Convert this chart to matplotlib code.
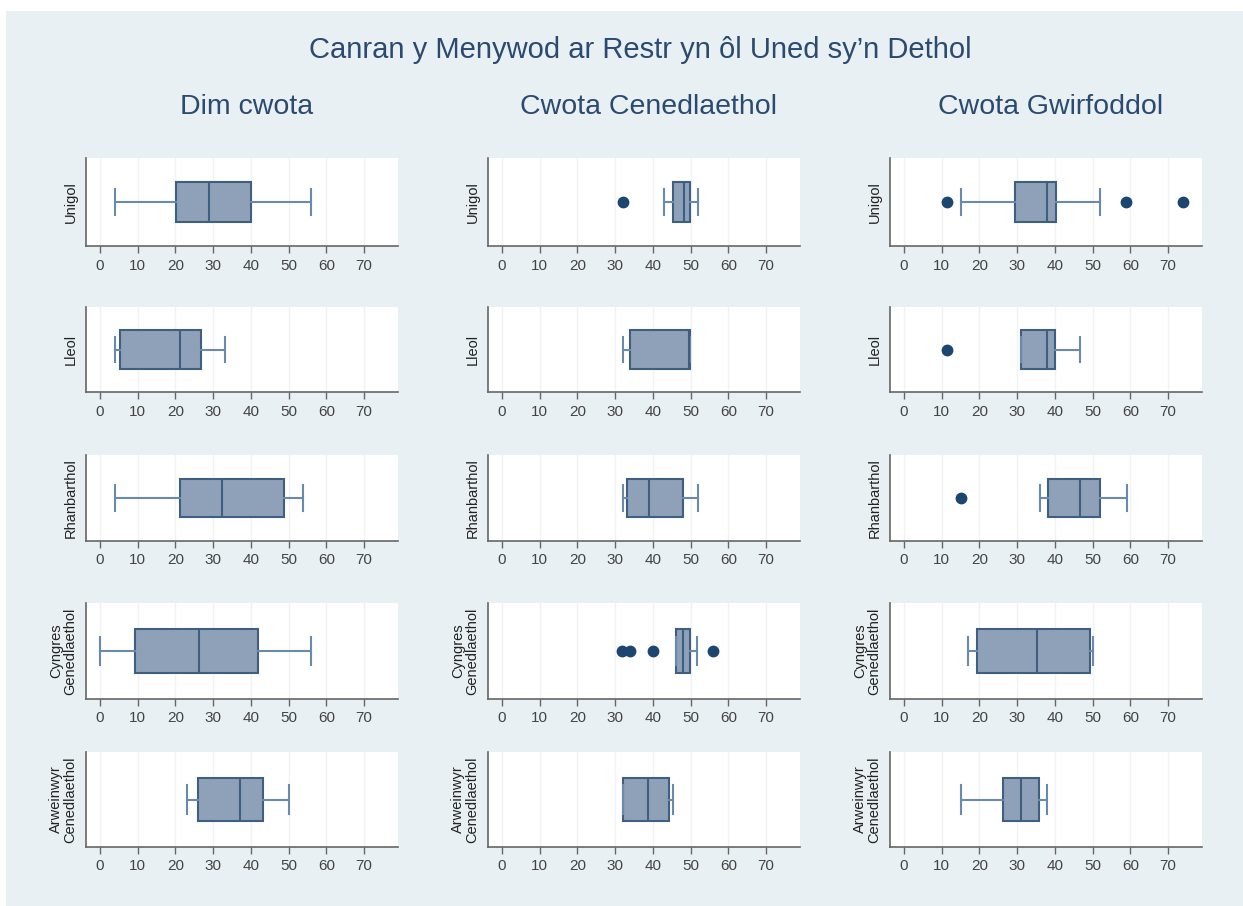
import matplotlib.pyplot as plt
from matplotlib.patches import Rectangle

plt.rcParams['font.family'] = ['Liberation Sans', 'DejaVu Sans']

columns = ["Dim cwota", "Cwota Cenedlaethol", "Cwota Gwirfoddol"]
rows = ["Unigol", "Lleol", "Rhanbarthol", "Cyngres\nGenedlaethol", "Arweinwyr\nCenedlaethol"]
xticks = [0, 10, 20, 30, 40, 50, 60, 70]

# per column: (whislo, q1, med, q3, whishi, outliers) for each row
dim_cwota = [
    (4, 20.2, 29, 40, 56, []),
    (4.1, 5.3, 21.3, 26.8, 33.2, []),
    (4.1, 21.1, 32.3, 48.7, 53.8, []),
    (0.1, 9.3, 26.2, 42, 56, []),
    (23, 26.1, 37.1, 43.1, 50, []),
]
cwota_cenedlaethol = [
    (43, 45.4, 48.3, 49.8, 51.9, [32]),
    (32, 34, 49.5, 49.9, 49.9, []),
    (32, 33.1, 39, 48, 52, []),
    (46.2, 46.2, 48.1, 49.8, 51.8, [31.7, 33.9, 40, 56]),
    (32.1, 32.1, 38.6, 44.3, 45.4, []),
]
cwota_gwirfoddol = [
    (15.1, 29.4, 38, 40.4, 52, [11.4, 58.9, 74]),
    (31.1, 31.1, 38, 40, 46.7, [11.5]),
    (36, 38.1, 46.6, 52, 59, [15.1]),
    (17, 19.3, 35.2, 49.2, 50.1, []),
    (15.1, 26.2, 31, 35.9, 38, []),
]
all_stats = [dim_cwota, cwota_cenedlaethol, cwota_gwirfoddol]

W, H = 1243, 906
bg = "#e8f0f3"
fig = plt.figure(figsize=(W / 100, H / 100), dpi=100, facecolor="white")
fig.patches.append(Rectangle((6 / W, 0), 1, 1 - 11 / H, transform=fig.transFigure,
                             facecolor=bg, edgecolor="none", zorder=-10))

col_left = [86, 488, 890]
col_width = 312
row_top = [158, 307, 455, 603, 752]
row_bot = [246, 392, 541, 699, 847]

title_col = "#2b4a6f"
fig.text(640 / W, 1 - 50 / H, "Canran y Menywod ar Restr yn ôl Uned sy’n Dethol",
         ha="center", va="center", fontsize=21, color=title_col)

for c in range(3):
    fig.text((col_left[c] + col_width / 2 + 5) / W, 1 - 107 / H, columns[c],
             ha="center", va="center", fontsize=20.5, color=title_col)
    for r in range(5):
        ax = fig.add_axes([col_left[c] / W, 1 - row_bot[r] / H,
                           col_width / W, (row_bot[r] - row_top[r]) / H])
        ax.set_facecolor("white")
        lo, q1, med, q3, hi, fl = all_stats[c][r]
        stats = [dict(whislo=lo, q1=q1, med=med, q3=q3, whishi=hi, fliers=fl)]
        ax.bxp(stats, positions=[1], widths=0.9, vert=False, patch_artist=True,
               capwidths=0.6,
               boxprops=dict(facecolor="#8ea1b8", edgecolor="#3f5f82", linewidth=1.5),
               medianprops=dict(color="#3f5f82", linewidth=1.5),
               whiskerprops=dict(color="#6a8aac", linewidth=1.5),
               capprops=dict(color="#6a8aac", linewidth=1.5),
               flierprops=dict(marker="o", markerfacecolor="#1c4670",
                               markeredgecolor="#1c4670", markersize=7.5))
        ax.set_xlim(-3.7, 79)
        ax.set_ylim(0, 2)
        ax.set_xticks(xticks)
        ax.set_yticks([])
        ax.grid(axis="x", color="#f0f2f4", linewidth=1)
        ax.set_axisbelow(True)
        for s in ["top", "right"]:
            ax.spines[s].set_visible(False)
        for s in ["left", "bottom"]:
            ax.spines[s].set_color("#666666")
            ax.spines[s].set_linewidth(1.2)
        ax.tick_params(axis="x", colors="#666666", labelcolor="#444444",
                       labelsize=11, length=5, width=1.0, pad=4)
        ax.set_ylabel(rows[r], fontsize=10.5, color="#222222", labelpad=6,
                      linespacing=1.05)

plt.savefig("out.png", dpi=100, facecolor="white")
